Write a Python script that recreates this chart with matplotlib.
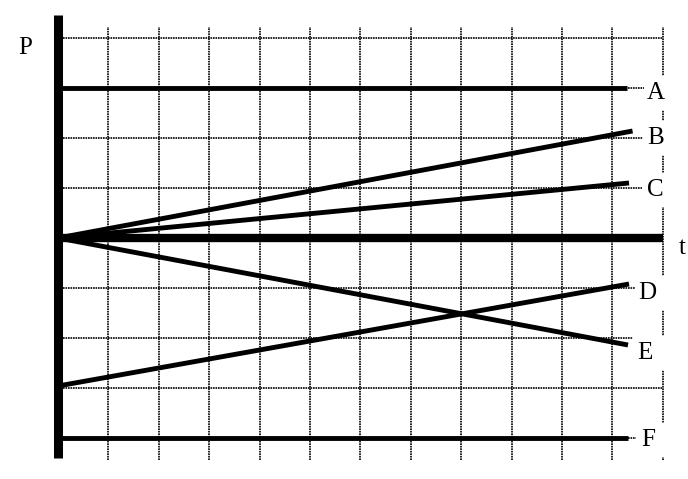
import matplotlib
matplotlib.use("Agg")
from matplotlib import pyplot as plt
from matplotlib.patches import Rectangle
import numpy as np

# line data (grid units): name, start P, end P, end t
names = ["A", "B", "C", "D", "E", "F"]
p_start = [3.0, 0.0, 0.0, -2.96, 0.0, -4.0]
p_end = [3.0, 2.14, 1.1, -0.92, -2.14, -4.0]
t_end = [11.29, 11.4, 11.33, 11.33, 11.31, 11.31]

# label positions
label_t = [11.87, 11.86, 11.845, 11.69, 11.65, 11.71]
label_p = [2.9, 2.0, 0.96, -1.1, -2.3, -4.04]

grid_t = np.arange(1, 13)
grid_p = [4, 3, 2, 1, -1, -2, -3, -4]

fig = plt.figure(figsize=(6.88, 4.79), dpi=100)
ax = fig.add_axes([0, 0, 1, 1])
ax.set_xlim(-58 / 50.4, 630 / 50.4)
ax.set_ylim(-241 / 50, 238 / 50)
ax.axis("off")

dot = (0, (1.0, 0.5))
for t in grid_t:
  ax.plot([t, t], [-4.44, 4.22], color="black", lw=1.2, ls=dot, zorder=1)
for p in grid_p:
  ax.plot([0, 12], [p, p], color="black", lw=1.2, ls=dot, zorder=1)

# axes
ax.plot([0, 0], [-4.4, 4.46], color="black", lw=6.5, solid_capstyle="butt", zorder=4)
ax.plot([0, 12], [0, 0], color="black", lw=6.0, solid_capstyle="butt", zorder=4)

for i in range(len(names)):
  ax.plot([0, t_end[i]], [p_start[i], p_end[i]], color="black", lw=3.5,
          solid_capstyle="butt", zorder=3)
  # white box behind the label hides the grid around it
  left = label_t[i] - 0.25
  ax.add_patch(Rectangle((left, label_p[i] - 0.34), 12.15 - left, 0.68,
                         fc="white", ec="none", zorder=2))
  ax.text(label_t[i], label_p[i], names[i], family="Liberation Serif", fontsize=18,
          ha="center", va="center", zorder=5)

ax.text(12.38, -0.2, "t", family="Liberation Serif", fontsize=18, ha="center", va="center")
ax.text(-0.655, 3.8, "P", family="Liberation Serif", fontsize=18, ha="center", va="center")

fig.savefig("out.png", dpi=100)
